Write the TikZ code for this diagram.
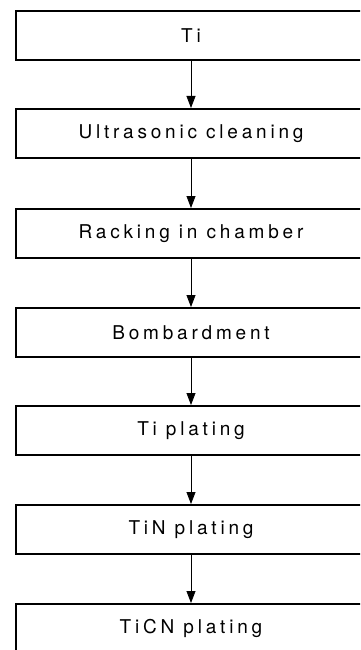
\documentclass[tikz,border=0pt]{standalone}
\usepackage{fontspec}
\setmainfont[LetterSpace=20]{TeX Gyre Heros}
\usetikzlibrary{arrows.meta}
\tikzset{
  stepbox/.style={draw=black, line width=1.8pt, minimum width=350pt, minimum height=49pt,
    inner sep=0pt, font=\fontsize{19pt}{22pt}\selectfont, anchor=north},
  arr/.style={draw=black, line width=0.8pt, -{Triangle[length=12pt,width=9pt]}}
}
\begin{document}
\begin{tikzpicture}[x=1pt,y=-1pt]
\useasboundingbox (0,0) rectangle (360,650);
\clip (0,0) rectangle (360,650);
\node[stepbox] (b1) at (191,10) {Ti};
\node[stepbox] (b2) at (191,108) {Ultrasonic cleaning};
\node[stepbox] (b3) at (191,208) {Racking in chamber};
\node[stepbox] (b4) at (191,307) {Bombardment};
\node[stepbox] (b5) at (191,405) {Ti plating};
\node[stepbox] (b6) at (191,504) {TiN plating};
\node[stepbox] (b7) at (191,603) {TiCN plating};
\draw[arr] (b1.south) -- (b2.north);
\draw[arr] (b2.south) -- (b3.north);
\draw[arr] (b3.south) -- (b4.north);
\draw[arr] (b4.south) -- (b5.north);
\draw[arr] (b5.south) -- (b6.north);
\draw[arr] (b6.south) -- (b7.north);
\end{tikzpicture}
\end{document}
